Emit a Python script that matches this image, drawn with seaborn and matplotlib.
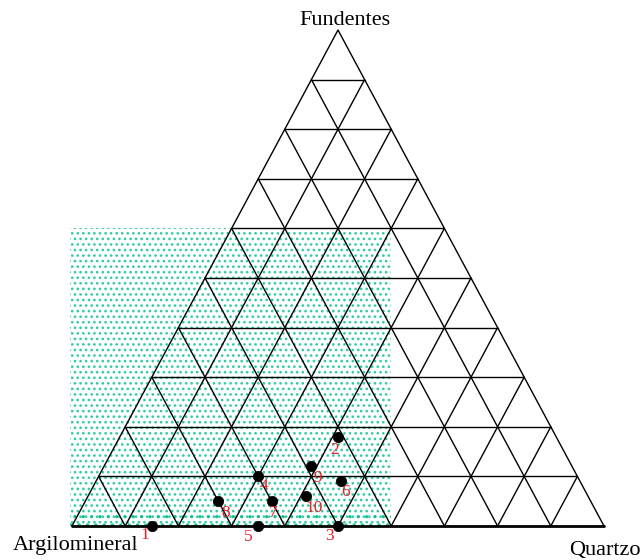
import matplotlib
matplotlib.use("Agg")
import matplotlib.pyplot as plt
from matplotlib.patches import Rectangle
import numpy as np
import pandas as pd
import seaborn as sns

# Ternary composition of the samples (fractions)
amostras = ["1", "2", "3", "4", "5", "6", "7", "8", "9", "10"]
fundentes = [0.00, 0.18, 0.00, 0.10, 0.00, 0.09, 0.05, 0.05, 0.12, 0.06]
quartzo = [0.15, 0.41, 0.50, 0.30, 0.35, 0.46, 0.35, 0.25, 0.39, 0.41]
argilomineral = [0.85, 0.41, 0.50, 0.60, 0.65, 0.45, 0.60, 0.70, 0.49, 0.53]

vertices = ["Argilomineral", "Quartzo", "Fundentes"]
divisoes = 10

# shaded composition field: Fundentes <= 0.6 and projection x <= 0.6
campo_x = [0.0, 0.6]
campo_y = [0.0, 0.6]

# label nudges (pixels: right, down)
desloc = [(-7, 9), (-3, 13), (-9, 10), (6, 10), (-10, 11),
          (5, 11), (2, 12), (7, 12), (6, 12), (8, 12)]

sns.set_style("white")
plt.rcParams["font.family"] = ["Liberation Serif", "DejaVu Serif"]
plt.rcParams["text.color"] = "black"
plt.rcParams["hatch.linewidth"] = 1.1

W, H = 642, 560
fig = plt.figure(figsize=(W / 100, H / 100), dpi=100)
ax = fig.add_axes([0, 0, 1, 1])
ax.set_xlim(-72 / 532, (W - 72) / 532)
ax.set_ylim(-(H - 526) / 496, 526 / 496)
ax.axis("off")


def cart(f, q):
    f = np.asarray(f, dtype=float)
    q = np.asarray(q, dtype=float)
    return q + f / 2, f


teal = "#30cba6"
ax.add_patch(Rectangle((campo_x[0] - 0.004, campo_y[0]),
                       campo_x[1] - campo_x[0] + 0.004, campo_y[1] - campo_y[0],
                       fill=False, hatch="...", edgecolor=teal, lw=0, zorder=0))
ax.add_patch(Rectangle((campo_x[0] - 0.004, campo_y[0]),
                       campo_x[1] - campo_x[0] + 0.004, 0.028,
                       fill=False, hatch="..", edgecolor="#10c090", lw=0, zorder=0))

# grid lines for each tenth of every component
for k in range(1, divisoes):
    t = k / divisoes
    ax.plot([t / 2, 1 - t / 2], [t, t], color="black", lw=1.0, zorder=2)
    ax.plot([t, t + (1 - t) / 2], [0, 1 - t], color="black", lw=1.0, zorder=2)
    ax.plot([1 - t, (1 - t) / 2], [0, 1 - t], color="black", lw=1.0, zorder=2)

# triangle outline
ax.plot([0, 0.5, 1], [0, 1, 0], color="black", lw=1.0, zorder=2)
ax.plot([0, 1], [0, 0], color="black", lw=2.0, zorder=2)

x, y = cart(fundentes, quartzo)
df = pd.DataFrame({"amostra": amostras, "x": x, "y": y})
sns.scatterplot(data=df, x="x", y="y", color="black", s=56,
                edgecolor="black", linewidth=0.5, zorder=5, ax=ax, legend=False)
ax.set_xlabel("")
ax.set_ylabel("")

for (lab, xi, yi), (dx, dy) in zip(zip(amostras, x, y), desloc):
    ax.annotate(lab, (xi, yi), xytext=(dx, -dy), textcoords="offset pixels",
                ha="center", va="center", color="#e8202a", fontsize=12.5, zorder=6)

fs = 16
fig.text(345 / W, 1 - 25 / H, vertices[2], ha="center", va="baseline",
         fontsize=fs, color="black")
fig.text(13 / W, 1 - 550 / H, vertices[0], ha="left", va="baseline",
         fontsize=fs, color="black")
fig.text(641 / W, 1 - 555 / H, vertices[1], ha="right", va="baseline",
         fontsize=fs, color="black")

fig.savefig("out.png", dpi=100)
